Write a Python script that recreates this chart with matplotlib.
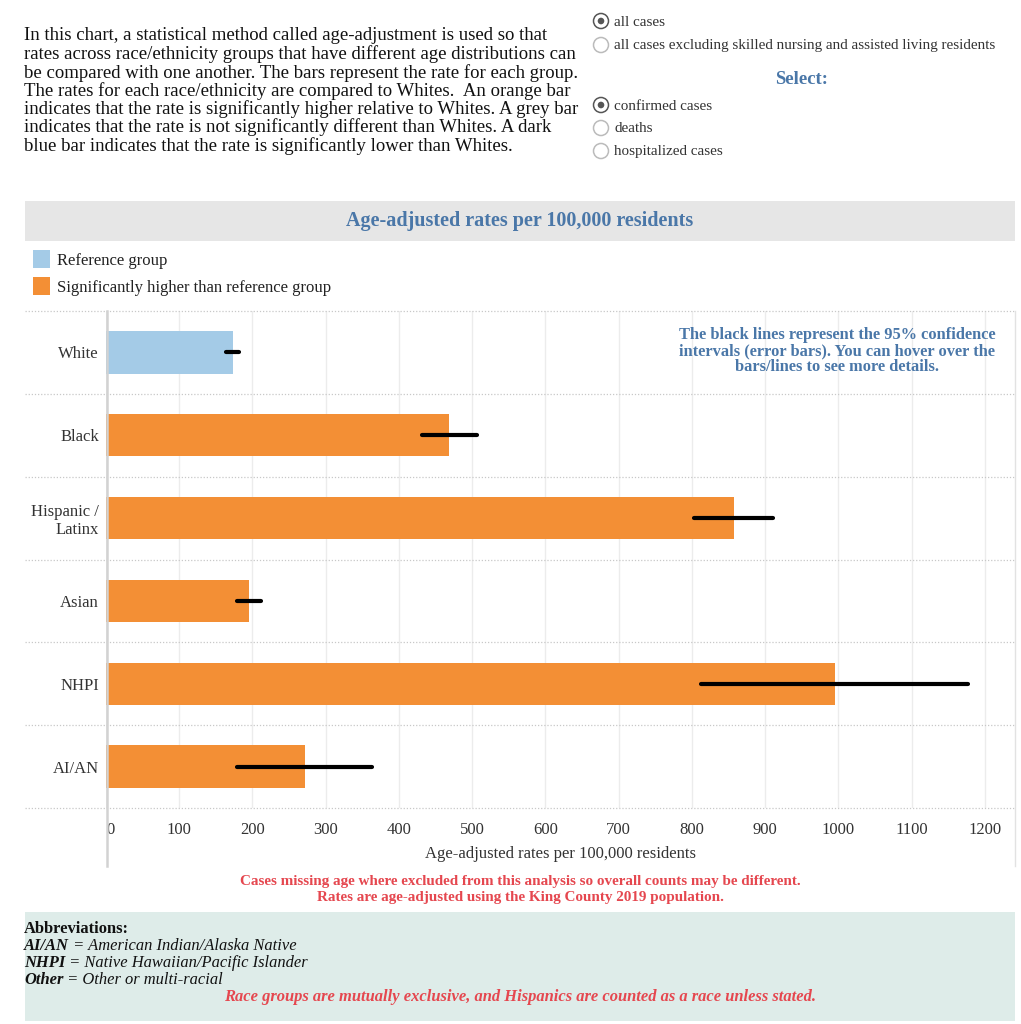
import matplotlib
matplotlib.use("Agg")
import matplotlib.pyplot as plt
from matplotlib.patches import Rectangle, Circle
from matplotlib.lines import Line2D

# ---------------- data ----------------
categories = ["White", "Black", "Hispanic /\nLatinx", "Asian", "NHPI", "AI/AN"]
rates = [173, 468, 857, 195, 995, 272]
ci_low = [164, 431, 803, 179, 812, 179]
ci_high = [182, 507, 910, 211, 1177, 363]
groups = ["reference", "higher", "higher", "higher", "higher", "higher"]
x_ticks = [0, 100, 200, 300, 400, 500, 600, 700, 800, 900, 1000, 1100, 1200]

COL = {"reference": "#a4cbe7", "higher": "#f38f35"}
BLUE = "#4a77a8"
RED = "#e5474f"
SERIF = ["Liberation Serif", "DejaVu Serif"]
plt.rcParams["font.family"] = SERIF

W, H = 1021, 1024
fig = plt.figure(figsize=(W / 100, H / 100), dpi=100)


def fx(x):
    return x / W


def fy(y):
    return 1 - y / H


def ftext(x, y, s, **kw):
    kw.setdefault("va", "center")
    return fig.text(fx(x), fy(y), s, **kw)


# ---------------- top paragraph ----------------
para = [
    "In this chart, a statistical method called age-adjustment is used so that",
    "rates across race/ethnicity groups that have different age distributions can",
    "be compared with one another. The bars represent the rate for each group.",
    "The rates for each race/ethnicity are compared to Whites.  An orange bar",
    "indicates that the rate is significantly higher relative to Whites. A grey bar",
    "indicates that the rate is not significantly different than Whites. A dark",
    "blue bar indicates that the rate is significantly lower than Whites.",
]
for i, line in enumerate(para):
    ftext(24, 36 + i * 18.3, line, fontsize=13.5, color="#111111")

# ---------------- radio buttons ----------------
ftext(800, -4, "Select:", fontsize=13.5, color=BLUE, weight="bold", ha="center")
radios = [(21, "all cases", True),
          (45, "all cases excluding skilled nursing and assisted living residents", False),
          (105, "confirmed cases", True),
          (128, "deaths", False),
          (151, "hospitalized cases", False)]
for y, label, sel in radios:
    fig.patches.append(Circle((fx(601), fy(y)), 7.5 / W, transform=fig.transFigure,
                              facecolor="white", edgecolor="#555555" if sel else "#bbbbbb",
                              lw=1.1))
    if sel:
        fig.patches.append(Circle((fx(601), fy(y)), 3.3 / W, transform=fig.transFigure,
                                  facecolor="#555555", edgecolor="none"))
    ftext(614, y + 1, label, fontsize=10.9, color="#333333")
ftext(801, 79, "Select:", fontsize=13.5, color=BLUE, weight="bold", ha="center")

# ---------------- banner ----------------
fig.patches.append(Rectangle((fx(25), fy(241)), (1015 - 25) / W, 40 / H,
                             transform=fig.transFigure, facecolor="#e6e6e6", edgecolor="none"))
ftext(520, 221, "Age-adjusted rates per 100,000 residents", fontsize=14.5,
      color=BLUE, weight="bold", ha="center")

# ---------------- legend ----------------
for y, key, label in [(259, "reference", "Reference group"),
                      (286, "higher", "Significantly higher than reference group")]:
    fig.patches.append(Rectangle((fx(33), fy(y + 9)), 17 / W, 18 / H,
                                 transform=fig.transFigure, facecolor=COL[key], edgecolor="none"))
    ftext(57, y + 2, label, fontsize=12, color="#222222")

# ---------------- chart ----------------
top, bottom, left, right = 311, 808, 106, 1015
ax = fig.add_axes([fx(left), fy(bottom), (right - left) / W, (bottom - top) / H])
ypos = list(range(len(categories)))
ax.barh(ypos, rates, height=0.51, color=[COL[g] for g in groups], zorder=2)
for y, lo, hi in zip(ypos, ci_low, ci_high):
    ax.plot([lo, hi], [y, y], color="black", lw=3.0, solid_capstyle="round", zorder=3)
ax.set_xlim(0, 1241)
ax.set_ylim(len(categories) - 0.5, -0.5)
ax.set_xticks(x_ticks)
ax.set_xticklabels([str(t) for t in x_ticks])
ax.get_xticklabels()[0].set_horizontalalignment("left")
ax.set_yticks(ypos)
ax.set_yticklabels(categories, multialignment="right")
ax.tick_params(axis="both", length=0, labelsize=12, labelcolor="#333333")
ax.tick_params(axis="x", pad=10)
ax.tick_params(axis="y", pad=5)
for s in ax.spines.values():
    s.set_visible(False)
ax.grid(axis="x", color="#ececec", lw=1, zorder=0)
ax.set_axisbelow(True)
ax.set_xlabel("Age-adjusted rates per 100,000 residents", fontsize=12, color="#333333",
              labelpad=6)
# dotted row separators
tr = ax.get_yaxis_transform()
x0 = (25 - left) / (right - left)
for b in [i - 0.5 for i in range(len(categories) + 1)]:
    ax.plot([x0, 1], [b, b], transform=tr, color="#c8c8c8", lw=0.9, ls=(0, (1, 1.5)),
            clip_on=False, zorder=1)
# axis lines
fig.add_artist(Line2D([fx(106.5), fx(106.5)], [fy(311), fy(866)], color="#d2d2d2", lw=1.8))
fig.add_artist(Line2D([fx(1015), fx(1015)], [fy(311), fy(866)], color="#e2e2e2", lw=1.0))

ftext(837, 351, "The black lines represent the 95% confidence\n"
      "intervals (error bars). You can hover over the\nbars/lines to see more details.",
      ha="center", fontsize=11.8, color=BLUE, weight="bold", linespacing=1.02, zorder=4)

# ---------------- notes ----------------
ftext(520, 881, "Cases missing age where excluded from this analysis so overall counts may be different.",
      fontsize=10.9, color=RED, weight="bold", ha="center")
ftext(520, 898, "Rates are age-adjusted using the King County 2019 population.",
      fontsize=10.9, color=RED, weight="bold", ha="center")

# ---------------- abbreviations box ----------------
fig.patches.append(Rectangle((fx(25), fy(1021)), (1015 - 25) / W, (1021 - 912) / H,
                             transform=fig.transFigure, facecolor="#deece9", edgecolor="none"))
ftext(24, 929, "Abbreviations:", fontsize=11.9, weight="bold", color="#111111")
fig.canvas.draw()
renderer = fig.canvas.get_renderer()
for y, abbr, desc in [(946, "AI/AN", " = American Indian/Alaska Native"),
                      (963, "NHPI", " = Native Hawaiian/Pacific Islander"),
                      (980, "Other", " = Other or multi-racial")]:
    t = ftext(24, y, abbr, fontsize=11.9, weight="bold", style="italic", color="#111111")
    bb = t.get_window_extent(renderer)
    fig.text(bb.x1 / W, fy(y), desc, fontsize=11.9, style="italic", color="#111111",
             va="center")
ftext(520, 997, "Race groups are mutually exclusive, and Hispanics are counted as a race unless stated.",
      fontsize=11.9, style="italic", weight="bold", color=RED, ha="center")

fig.savefig("out.png", dpi=100)
